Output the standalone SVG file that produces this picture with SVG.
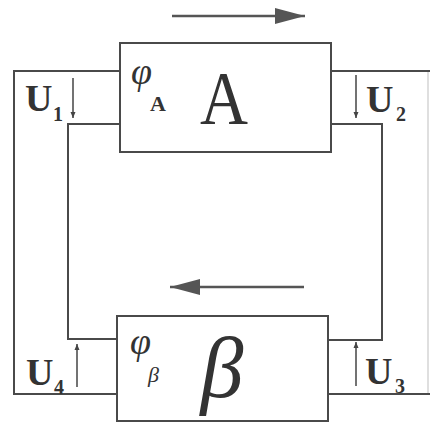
<svg xmlns="http://www.w3.org/2000/svg" width="430" height="422" viewBox="0 0 430 422">
  <style>
    .wire { fill: none; stroke: #4a4a4a; stroke-width: 2; }
    .faint { fill: none; stroke: #d4d4d4; stroke-width: 1.5; }
    .box { fill: #ffffff; stroke: #4a4a4a; stroke-width: 2; }
    .flow { fill: none; stroke: #555; stroke-width: 2.4; }
    .tick { fill: none; stroke: #444; stroke-width: 1.5; }
    .lbl { font-family: "Liberation Serif", "Times New Roman", serif; fill: #333; }
    .u { font-weight: bold; font-size: 38px; }
    .sub { font-weight: bold; font-size: 20px; }
  </style>
  <defs>
    <marker id="bigHead" viewBox="0 0 30 16" refX="30" refY="8" markerWidth="30" markerHeight="16" markerUnits="userSpaceOnUse" orient="auto">
      <path d="M0,0 L30,8 L0,16 Z" fill="#555"/>
    </marker>
    <marker id="smallHead" viewBox="0 0 6 6" refX="6" refY="3" markerWidth="6" markerHeight="6" markerUnits="userSpaceOnUse" orient="auto">
      <path d="M0,0.5 L6,3 L0,5.5 Z" fill="#444"/>
    </marker>
  </defs>
  <rect width="430" height="422" fill="#ffffff"/>

  <!-- feedback wiring between the two blocks -->
  <g id="connectors">
    <polyline class="wire" points="120,71 14,71 14,394 117,394"/>
    <polyline class="wire" points="120,124 68,124 68,339 117,339"/>
    <polyline class="wire" points="331,71 430,71"/>
    <polyline class="wire" points="331,124 382,124 382,340 328,340"/>
    <polyline class="wire" points="328,394 430,394"/>
    <line class="faint" x1="428" y1="72" x2="428" y2="393"/>
    <!-- signal direction arrows -->
    <line class="flow" x1="172" y1="16" x2="305" y2="16" marker-end="url(#bigHead)"/>
    <line class="flow" x1="304" y1="287" x2="170" y2="287" marker-end="url(#bigHead)"/>
    <!-- voltage ticks -->
    <line class="tick" x1="73" y1="78" x2="73" y2="118" marker-end="url(#smallHead)"/>
    <line class="tick" x1="356" y1="75" x2="356" y2="118" marker-end="url(#smallHead)"/>
    <line class="tick" x1="356" y1="386" x2="356" y2="342" marker-end="url(#smallHead)"/>
    <line class="tick" x1="77" y1="387" x2="77" y2="344" marker-end="url(#smallHead)"/>
  </g>

  <g id="blockA">
    <rect class="box" x="120" y="43" width="211" height="109"/>
    <text class="lbl" x="224" y="124" font-size="76" text-anchor="middle" textLength="48" lengthAdjust="spacingAndGlyphs">A</text>
    <text class="lbl" x="131" y="84" font-size="38" font-style="italic">φ</text>
    <text class="lbl" x="150" y="111" font-size="22" font-weight="bold">A</text>
  </g>

  <g id="blockB">
    <rect class="box" x="117" y="316" width="211" height="105"/>
    <text class="lbl" x="222" y="397" font-size="86" font-style="italic" text-anchor="middle">β</text>
    <text class="lbl" x="130" y="354" font-size="38" font-style="italic">φ</text>
    <text class="lbl" x="148" y="382" font-size="22" font-style="italic">β</text>
  </g>

  <g id="labelU1">
    <text class="lbl u" x="25" y="111">U</text>
    <text class="lbl sub" x="53" y="121">1</text>
  </g>
  <g id="labelU2">
    <text class="lbl u" x="366" y="112">U</text>
    <text class="lbl sub" x="396" y="121">2</text>
  </g>
  <g id="labelU3">
    <text class="lbl u" x="365" y="384">U</text>
    <text class="lbl sub" x="395" y="393">3</text>
  </g>
  <g id="labelU4">
    <text class="lbl u" x="26" y="385">U</text>
    <text class="lbl sub" x="54" y="394">4</text>
  </g>
</svg>
